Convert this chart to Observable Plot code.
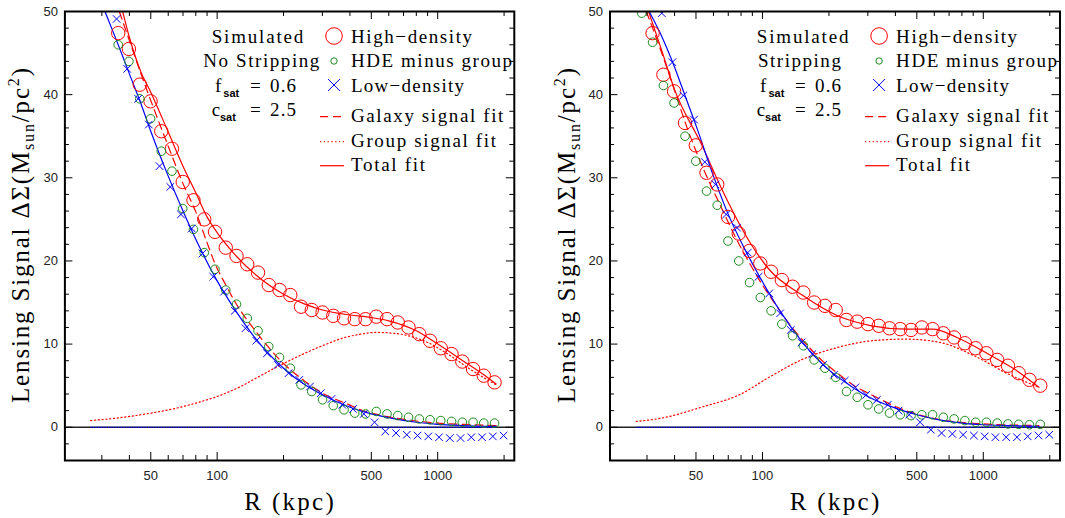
<!DOCTYPE html>
<html><head><meta charset="utf-8">
<script src="https://cdn.jsdelivr.net/npm/d3@7"></script>
<script src="https://cdn.jsdelivr.net/npm/@observablehq/plot@0.6"></script>
<style>
body{margin:0;background:#fff;}
#wrap{position:relative;width:1065px;height:518px;overflow:hidden;background:#fff;}
.panel{position:absolute;top:0;}
</style></head>
<body><div id="wrap"><div id="p1" class="panel" style="left:0px"></div><div id="p2" class="panel" style="left:530px"></div></div>
<script>
// ---------- data (R in kpc, Delta Sigma in Msun/pc^2) ----------
const binR = [35.6, 39.8, 44.6, 49.9, 55.8, 62.4, 69.8, 78.1, 87.4, 97.8, 109.4, 122.4, 136.9, 153.2, 171.4, 191.8, 214.6, 240.1, 268.5, 300.5, 336.1, 376.1, 420.7, 470.8, 526.7, 589.3, 659.2, 737.6, 825.2, 923.3, 1032.8, 1155.6, 1292.9, 1446.6, 1618.1, 1810.7];
const binR_right_high = [31.8, 35.6, 39.8, 44.6, 49.9, 55.8, 62.4, 69.8, 78.1, 87.4, 97.8, 109.4, 122.4, 136.9, 153.2, 171.4, 191.8, 214.6, 240.1, 268.5, 300.5, 336.1, 376.1, 420.7, 470.8, 526.7, 589.3, 659.2, 737.6, 825.2, 923.3, 1032.8, 1155.6, 1292.9, 1446.6, 1618.1, 1810.7];
const binR_right_green = [28.4, 31.8, 35.6, 39.8, 44.6, 49.9, 55.8, 62.4, 69.8, 78.1, 87.4, 97.8, 109.4, 122.4, 136.9, 153.2, 171.4, 191.8, 214.6, 240.1, 268.5, 300.5, 336.1, 376.1, 420.7, 470.8, 526.7, 589.3, 659.2, 737.6, 825.2, 923.3, 1032.8, 1155.6, 1292.9, 1446.6, 1618.1, 1810.7];
const lowR = [35.0, 39.1, 43.8, 49.0, 54.8, 61.3, 68.5, 76.7, 85.8, 96.0, 107.4, 120.2, 134.4, 150.4, 168.3, 188.3, 210.7, 235.8, 263.7, 295.1, 330.0, 369.3, 413.1, 462.3, 517.2, 578.7, 647.4, 724.3, 810.3, 906.6, 1014.2, 1134.8, 1269.6, 1420.5, 1588.9, 1778.1, 1989.1];

// Left panel: No Stripping
const leftHigh = [47.4, 45.5, 41.2, 39.2, 35.6, 33.5, 29.5, 27.3, 25.0, 23.5, 21.6, 20.6, 19.6, 18.6, 17.1, 16.5, 15.9, 14.5, 14.1, 13.8, 13.4, 13.1, 13.0, 13.0, 13.3, 13.0, 12.6, 12.0, 11.2, 10.4, 9.5, 8.8, 7.9, 7.0, 6.2, 5.4];
const leftGreen = [46.0, 44.0, 39.5, 37.1, 33.2, 30.8, 26.3, 23.8, 21.0, 19.0, 16.5, 14.8, 13.1, 11.6, 9.7, 8.4, 7.1, 5.1, 4.3, 3.3, 2.6, 2.1, 1.7, 1.6, 1.9, 1.6, 1.4, 1.2, 1.0, 0.9, 0.8, 0.7, 0.6, 0.6, 0.5, 0.5];
const leftLow = [49.1, 43.1, 39.5, 36.4, 31.4, 28.9, 25.6, 23.9, 20.9, 18.1, 16.3, 14.0, 11.9, 10.4, 8.9, 7.5, 6.5, 5.7, 4.9, 4.1, 3.4, 2.7, 2.2, 1.6, 0.6, -0.5, -0.7, -0.9, -1.0, -1.1, -1.2, -1.3, -1.3, -1.2, -1.2, -1.1, -1.0];
const leftTotalR = [37.3, 40, 45, 50, 60, 70, 80, 90, 100, 120, 150, 200, 250, 300, 400, 500, 600, 800, 1000, 1300, 1600, 1840];
const leftTotalV = [50, 46.9, 42.8, 40.3, 35.5, 31.4, 28.2, 25.3, 23.4, 20.8, 18.3, 16.0, 14.8, 14.1, 13.5, 13.2, 12.8, 11.6, 10.0, 8.0, 6.4, 5.2];
const leftGalR = [36, 40, 45, 50, 60, 70, 80, 90, 97, 110, 121, 150, 194, 248, 305, 389, 447, 600, 800, 1000, 1300, 1600, 1840];
const leftGalV = [50, 46.5, 42.6, 39.3, 33.8, 29.3, 25.9, 22.2, 19.9, 17.0, 15.0, 11.5, 8.0, 5.6, 4.0, 2.8, 2.1, 1.25, 0.75, 0.5, 0.35, 0.25, 0.2];
const leftGroupR = [26.7, 35, 50, 63, 80, 100, 130, 150, 185, 220, 265, 300, 380, 450, 524, 600, 736, 900, 1112, 1400, 1840];
const leftGroupV = [0.8, 1.1, 1.7, 2.2, 2.9, 3.7, 5.0, 5.9, 7.2, 8.2, 9.2, 9.8, 10.8, 11.2, 11.4, 11.35, 11.0, 10.2, 8.8, 7.0, 5.1];
const leftLowFitR = [31, 35, 40, 45, 50, 60, 70, 80, 100, 120, 150, 200, 250, 300, 400, 500, 600, 800, 1000, 1300, 1600, 1840];
const leftLowFitV = [50, 46.5, 42.5, 39, 35.6, 30.2, 26, 22.6, 17.6, 14.2, 10.6, 7.1, 5.1, 3.9, 2.4, 1.6, 1.15, 0.6, 0.35, 0.2, 0.12, 0.1];
const leftZeroR = [26.7, 1840];

// Right panel: Stripping
const rightHigh = [47.4, 42.4, 40.4, 36.6, 33.9, 30.6, 29.2, 25.3, 23.3, 21.2, 19.7, 18.7, 17.7, 16.9, 16.2, 15.0, 14.6, 14.1, 12.9, 12.7, 12.4, 12.2, 11.9, 11.8, 11.7, 12.0, 11.8, 11.3, 10.8, 10.1, 9.5, 8.9, 8.1, 7.4, 6.5, 5.7, 5.0];
const rightGreen = [49.8, 46.3, 41.1, 39.0, 35.0, 32.0, 28.4, 26.7, 22.4, 20.0, 17.4, 15.6, 14.0, 12.4, 11.0, 9.8, 8.1, 7.1, 6.0, 4.3, 3.6, 2.7, 2.2, 1.7, 1.5, 1.4, 1.5, 1.5, 1.2, 1.0, 0.8, 0.6, 0.6, 0.5, 0.4, 0.35, 0.3, 0.35];
const rightLow = [49.8, 43.9, 39.9, 37.0, 31.9, 29.2, 25.6, 24.0, 21.0, 18.1, 16.1, 13.7, 11.7, 10.2, 8.8, 7.5, 6.3, 5.6, 4.8, 3.9, 3.3, 2.7, 2.0, 1.5, 0.6, -0.3, -0.7, -0.8, -0.9, -1.0, -1.1, -1.2, -1.2, -1.2, -1.1, -1.0, -0.9];
const rightTotalR = [30.5, 35, 40, 53, 65, 87, 107, 153, 219, 312, 446, 592, 760, 1086, 1400, 1786];
const rightTotalV = [50, 45.3, 40.6, 34, 28.8, 22.4, 19, 15.8, 13.4, 12.2, 11.8, 11.8, 10.8, 8.6, 6.9, 4.8];
const rightGalR = [29.8, 35, 40, 45.6, 55, 65.2, 75, 86.7, 100, 115, 135, 153, 190, 219, 260, 312, 400, 446, 637, 1000, 1400, 1786];
const rightGalV = [50, 45, 40.5, 36, 30.6, 26.4, 23, 19.9, 17.1, 14.7, 12.1, 10.4, 7.8, 6.5, 5.0, 3.9, 2.5, 2.0, 0.9, 0.4, 0.25, 0.2];
const rightGroupR = [26.8, 35, 52.7, 80, 107, 153, 219, 312, 446, 637, 908, 1297, 1787];
const rightGroupV = [0.7, 1.1, 2.4, 4.0, 6.0, 8.2, 9.6, 10.4, 10.6, 10.2, 8.6, 6.4, 4.8];
const rightLowFitR = [30.7, 35, 40, 45, 50, 60, 70, 80, 100, 120, 150, 200, 250, 300, 400, 500, 600, 800, 1000, 1300, 1786];
const rightLowFitV = [50, 47, 43.3, 39.6, 36.3, 30.2, 25.6, 22.3, 17.5, 14.0, 10.4, 6.9, 5.0, 3.7, 2.3, 1.5, 1.0, 0.5, 0.3, 0.2, 0.1];
const rightZeroR = [26.8, 1787];

// axes
const xDomain = [20.4, 2225];
const yDomain = [-4, 50];
const xLabelTicks = [50, 100, 500, 1000];
const xMajorTicks = [50, 100, 500, 1000];
const xMinorTicks = [30, 40, 60, 70, 80, 90, 200, 300, 400, 600, 700, 800, 900, 2000];
const yLabelTicks = [0, 10, 20, 30, 40, 50];
const yMajorTicks = [0, 10, 20, 30, 40];
const yMinorTicks = [-2, 2, 4, 6, 8, 12, 14, 16, 18, 22, 24, 26, 28, 32, 34, 36, 38, 42, 44, 46, 48];

// ---------- drawing ----------
const SERIF = "'Liberation Serif', 'Times New Roman', serif";
const SANS = "'Liberation Sans', Arial, sans-serif";
const RED = "#ff0000", GREEN = "#1c8c1c", BLUE = "#0000ff";
const H = 518, MT = 11, MB = 58;
const zip = (xs, ys) => xs.map((x, i) => ({x, y: ys[i]}));

function drawPanel(cfg) {
  const innerW = cfg.width - cfg.ml - cfg.mr, innerH = H - MT - MB;
  const fit = (R, V, extra) => Plot.line(zip(R, V), {x: "x", y: "y", curve: "monotone-x", clip: true, strokeWidth: 1.2, ...extra});
  const svg = Plot.plot({
    width: cfg.width, height: H,
    marginLeft: cfg.ml, marginRight: cfg.mr, marginTop: MT, marginBottom: MB,
    style: {background: "white", fontFamily: SANS, fontSize: "13px", color: "#222", overflow: "visible"},
    x: {type: "log", domain: xDomain, ticks: xLabelTicks, tickFormat: d => String(d), tickSize: 0, tickPadding: 10, label: null},
    y: {domain: yDomain, ticks: yLabelTicks, tickFormat: d => String(d), tickSize: 0, tickPadding: 7, label: null},
    marks: [
      Plot.ruleY([0], {stroke: "#222", strokeWidth: 1.4}),
      Plot.line(zip(cfg.zeroR, [0, 0]), {x: "x", y: "y", stroke: BLUE, strokeDasharray: "1,1.5", strokeWidth: 1}),
      fit(cfg.groupR, cfg.groupV, {stroke: RED, strokeDasharray: "1.2,2.6"}),
      fit(cfg.galR, cfg.galV, {stroke: RED, strokeDasharray: "8,5"}),
      fit(cfg.totR, cfg.totV, {stroke: RED}),
      fit(cfg.lowFitR, cfg.lowFitV, {stroke: BLUE}),
      Plot.dot(zip(cfg.highR, cfg.high), {x: "x", y: "y", r: 6.7, stroke: RED, fill: "none", strokeWidth: 1, clip: true}),
      Plot.dot(zip(cfg.greenR, cfg.green), {x: "x", y: "y", r: 4.3, stroke: GREEN, fill: "none", strokeWidth: 1, clip: true}),
      Plot.dot(zip(lowR, cfg.low), {x: "x", y: "y", r: 3.5, symbol: "times", stroke: BLUE, strokeWidth: 1, clip: true}),
      Plot.tickX(xMinorTicks, {x: d => d, insetTop: innerH - 5, stroke: "black"}),
      Plot.tickX(xMajorTicks, {x: d => d, insetTop: innerH - 8, stroke: "black"}),
      Plot.tickX(xMinorTicks, {x: d => d, insetBottom: innerH - 5, stroke: "black"}),
      Plot.tickX(xMajorTicks, {x: d => d, insetBottom: innerH - 8, stroke: "black"}),
      Plot.tickY(yMinorTicks, {y: d => d, insetRight: innerW - 4.5, stroke: "black"}),
      Plot.tickY(yMajorTicks, {y: d => d, insetRight: innerW - 8, stroke: "black"}),
      Plot.tickY(yMinorTicks, {y: d => d, insetLeft: innerW - 4.5, stroke: "black"}),
      Plot.tickY(yMajorTicks, {y: d => d, insetLeft: innerW - 8, stroke: "black"}),
      Plot.frame({stroke: "black", strokeWidth: 2})
    ]
  });
  const s = d3.select(svg);
  const x0 = cfg.ml;
  // x title
  s.append("text").attr("x", x0 + innerW / 2).attr("y", 510).attr("text-anchor", "middle")
    .attr("font-family", SERIF).attr("font-size", 25).attr("fill", "black")
    .attr("textLength", 89.5).attr("lengthAdjust", "spacing").text("R (kpc)");
  // y title
  const yt = s.append("text").attr("transform", `translate(${x0 - 35},235.5) rotate(-90)`)
    .attr("text-anchor", "middle").attr("font-family", SERIF).attr("font-size", 25).attr("fill", "black")
    .attr("textLength", 335).attr("lengthAdjust", "spacing");
  yt.append("tspan").text("Lensing Signal \u0394\u03A3(M");
  yt.append("tspan").attr("font-size", 16).attr("dy", 5).text("sun");
  yt.append("tspan").attr("dy", -5).text("/pc");
  yt.append("tspan").attr("font-size", 16).attr("dy", -10).text("2");
  yt.append("tspan").attr("dy", 10).text(")");

  // legend
  const g = s.append("g").attr("font-family", SERIF).attr("font-size", 19).attr("fill", "black")
    .attr("text-anchor", "start");
  const txt = (x, y, str, len) => {
    const t = g.append("text").attr("x", x0 + x).attr("y", y).attr("text-anchor", "start").text(str);
    if (len) t.attr("textLength", len).attr("lengthAdjust", "spacing");
    return t;
  };
  txt(147.3, 42.5, "Simulated", 91.6);
  if (cfg.strip) txt(148.4, 67, "Stripping", 83); else txt(138.9, 67, "No Stripping", 116);
  const param = (x, y, letter, val) => {
    txt(x, y, letter);
    g.append("text").attr("x", x0 + x + 8.3).attr("y", y + 5).attr("text-anchor", "start").attr("font-family", SANS)
      .attr("font-weight", "bold").attr("font-size", 11).text("sat");
    txt(185.6, y, "=");
    txt(205.6, y, val, 26);
  };
  param(150.6, 91.7, "f", "0.6");
  param(147.3, 116, "c", "2.5");
  const mx = x0 + 269.6;
  g.append("circle").attr("cx", mx).attr("cy", 36).attr("r", 8.3).attr("fill", "none").attr("stroke", RED);
  g.append("circle").attr("cx", mx).attr("cy", 61).attr("r", 3.2).attr("fill", "none").attr("stroke", GREEN);
  g.append("path").attr("d", `M${mx - 6},79L${mx + 6},91M${mx - 6},91L${mx + 6},79`).attr("stroke", BLUE).attr("fill", "none");
  const seg = (y, dash) => g.append("line").attr("x1", x0 + 255.6).attr("x2", x0 + 279.6).attr("y1", y).attr("y2", y)
    .attr("stroke", RED).attr("stroke-width", 1.2).attr("stroke-dasharray", dash);
  seg(116.7, "8,5"); seg(141.7, "1.2,2.6"); seg(165.7, null);
  const tx = 286.6;
  txt(tx, 42.5, "High\u2212density", 121);
  txt(tx, 67.3, "HDE minus group", 161);
  txt(tx, 91.7, "Low\u2212density", 113);
  txt(tx, 122.3, "Galaxy signal fit", 152.3);
  txt(tx, 146.7, "Group signal fit", 145);
  txt(tx, 170.7, "Total fit", 74);
  return svg;
}

document.getElementById("p1").appendChild(drawPanel({
  width: 530, ml: 64.4, mr: 16.2, strip: false,
  highR: binR, high: leftHigh, greenR: binR, green: leftGreen, low: leftLow,
  totR: leftTotalR, totV: leftTotalV, galR: leftGalR, galV: leftGalV,
  groupR: leftGroupR, groupV: leftGroupV, lowFitR: leftLowFitR, lowFitV: leftLowFitV, zeroR: leftZeroR
}));
document.getElementById("p2").appendChild(drawPanel({
  width: 535, ml: 79.5, mr: 5.5, strip: true,
  highR: binR_right_high, high: rightHigh, greenR: binR_right_green, green: rightGreen, low: rightLow,
  totR: rightTotalR, totV: rightTotalV, galR: rightGalR, galV: rightGalV,
  groupR: rightGroupR, groupV: rightGroupV, lowFitR: rightLowFitR, lowFitV: rightLowFitV, zeroR: rightZeroR
}));
</script></body></html>
